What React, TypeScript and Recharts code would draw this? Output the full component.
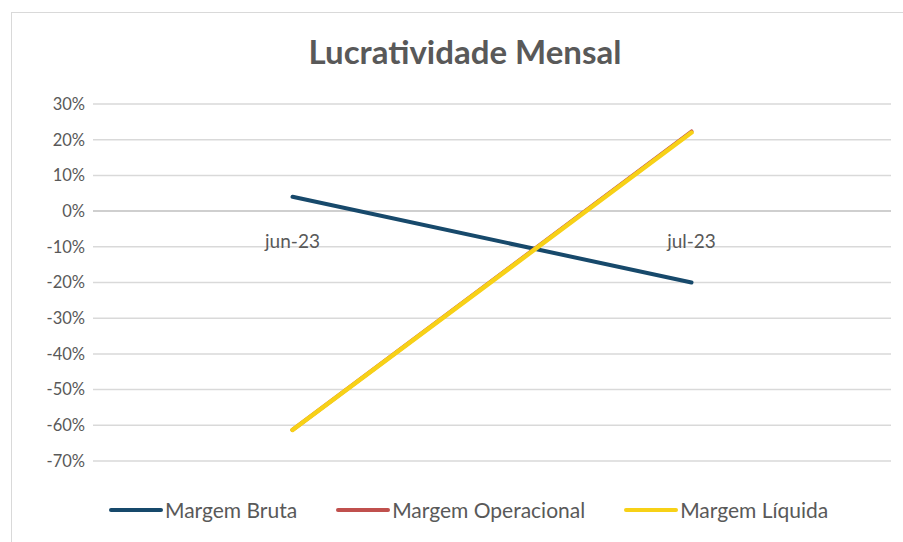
import React from "react";
import { LineChart, Line, XAxis, YAxis, CartesianGrid, ReferenceLine } from "recharts";

const categories = ["jun-23", "jul-23"];
const margemBruta = [4.0, -20.0];
const margemOperacional = [-61.3, 22.3];
const margemLiquida = [-61.3, 22.0];
const yTicks = [-70, -60, -50, -40, -30, -20, -10, 0, 10, 20, 30];
const seriesNames = ["Margem Bruta", "Margem Operacional", "Margem Líquida"];
const seriesColors = ["#17496B", "#C0504D", "#F7D117"];

const data = categories.map((c, i) => ({
  cat: c,
  bruta: margemBruta[i],
  operacional: margemOperacional[i],
  liquida: margemLiquida[i],
}));

const W = 903;
const H = 542;
const PLOT_TOP = 104;
const PLOT_BOTTOM = 461;
const X_AXIS_H = 30;
const Y_MIN = -70;
const Y_MAX = 30;
const ZERO_Y = PLOT_TOP + ((Y_MAX - 0) / (Y_MAX - Y_MIN)) * (PLOT_BOTTOM - PLOT_TOP);
const FONT = "Lato, 'Open Sans', sans-serif";
const TEXT = "#595959";

const CatTick = (props: any) => {
  const { x, payload } = props;
  return (
    <text x={x} y={ZERO_Y + 37} textAnchor="middle" fill={TEXT} fontSize={19} fontFamily={FONT}>
      {payload.value}
    </text>
  );
};

export default function App() {
  return (
    <div style={{ position: "absolute", left: 0, top: 0, width: W, height: H, background: "#fff", overflow: "hidden" }}>
      <div style={{ position: "absolute", left: 11, top: 12, width: W, height: H, border: "1px solid #d9d9d9", boxSizing: "border-box" }} />
      <div style={{ position: "absolute", left: 0, top: 31, width: 930, textAlign: "center", fontFamily: FONT, fontWeight: 700, fontSize: 33, color: TEXT }}>
        Lucratividade Mensal
      </div>
      <div style={{ position: "absolute", left: 0, top: 0 }}>
        <LineChart width={W} height={H} data={data} margin={{ top: PLOT_TOP, right: 12, bottom: H - PLOT_BOTTOM - X_AXIS_H, left: 0 }}>
          <CartesianGrid horizontal vertical={false} stroke="#d9d9d9" strokeWidth={1.5} />
          <XAxis dataKey="cat" scale="band" height={X_AXIS_H} axisLine={false} tickLine={false} tick={<CatTick />} interval={0} />
          <YAxis
            width={93}
            domain={[Y_MIN, Y_MAX]}
            ticks={yTicks}
            tickFormatter={(v: number) => `${v}%`}
            axisLine={false}
            tickLine={false}
            tickSize={0}
            tickMargin={8}
            tick={{ fill: TEXT, fontSize: 16.5, fontFamily: FONT }}
            interval={0}
          />
          <ReferenceLine y={0} stroke="#c8c8c8" strokeWidth={1.5} />
          <Line dataKey="bruta" name={seriesNames[0]} stroke={seriesColors[0]} strokeWidth={4} dot={false} isAnimationActive={false} strokeLinecap="round" />
          <Line dataKey="operacional" name={seriesNames[1]} stroke={seriesColors[1]} strokeWidth={4} dot={false} isAnimationActive={false} strokeLinecap="round" />
          <Line dataKey="liquida" name={seriesNames[2]} stroke={seriesColors[2]} strokeWidth={4.5} dot={false} isAnimationActive={false} strokeLinecap="round" />
        </LineChart>
      </div>
      <div style={{ position: "absolute", left: 109, top: 497, display: "flex", alignItems: "center", fontFamily: FONT, fontSize: 21, color: TEXT }}>
        {seriesNames.map((n, i) => (
          <div key={n} style={{ display: "flex", alignItems: "center", marginRight: 39 }}>
            <div style={{ width: 54, height: 4, borderRadius: 2, background: seriesColors[i], marginRight: 2 }} />
            <span>{n}</span>
          </div>
        ))}
      </div>
    </div>
  );
}
